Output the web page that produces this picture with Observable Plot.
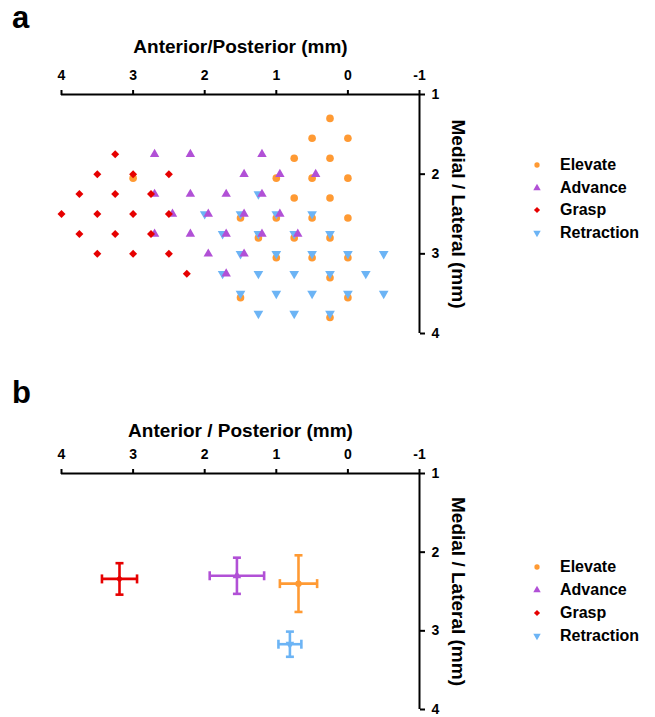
<!DOCTYPE html>
<html>
<head>
<meta charset="utf-8">
<script src="https://cdn.jsdelivr.net/npm/d3@7"></script>
<script src="https://cdn.jsdelivr.net/npm/@observablehq/plot@0.6"></script>
<style>
  body { margin: 0; background: #fff; font-family: "Liberation Sans", Arial, sans-serif; }
  #root { position: relative; width: 655px; height: 717px; overflow: hidden; background: #fff; }
  .panel { position: absolute; left: 0; }
  .letter { position: absolute; left: 12px; font-weight: bold; font-size: 31px; line-height: 31px; color: #000; }
  .lrow { position: absolute; left: 530px; height: 18px; line-height: 18px; font-weight: bold; font-size: 16px; color: #000; white-space: nowrap; }
  .lrow svg { position: absolute; left: 0; top: 3px; }
  .lrow span { position: absolute; left: 30px; top: 0; }
</style>
</head>
<body>
<div id="root"></div>
<script>
// ---------- data ----------
const groups = ["Elevate", "Advance", "Grasp", "Retraction"];
const groupColors = ["#FF9A33", "#B150D6", "#E60000", "#6CB4F5"];
const xTicks = [4, 3, 2, 1, 0, -1];
const yTicks = [1, 2, 3, 4];

// panel a: individual sites (mm)
const elevateX = [0.25, 0.5, 0, 0.75, 0.25, 1.0, 0.5, 0, 0.75, 0.25, 1.5, 1.0, 0.5, 0, 1.25, 0.75, 0.25, 1.0, 0.5, 0, 0.25, 1.5, 0, 0.25, 3.0];
const elevateY = [1.30, 1.55, 1.55, 1.80, 1.80, 2.05, 2.05, 2.05, 2.30, 2.30, 2.55, 2.55, 2.55, 2.55, 2.80, 2.80, 2.80, 3.05, 3.05, 3.05, 3.30, 3.55, 3.55, 3.80, 2.05];

const retractionX = [1.25, 2.0, 1.5, 1.0, 0.5, 1.75, 1.25, 0.75, 0.25, 1.5, 1.0, 0.5, 0, -0.5, 1.75, 1.25, 0.75, 0.25, -0.25, 1.5, 1.0, 0.5, 0, -0.5, 1.25, 0.75, 0.25];
const retractionY = [2.25, 2.5, 2.5, 2.5, 2.5, 2.75, 2.75, 2.75, 2.75, 3.0, 3.0, 3.0, 3.0, 3.0, 3.25, 3.25, 3.25, 3.25, 3.25, 3.5, 3.5, 3.5, 3.5, 3.5, 3.75, 3.75, 3.75];

const advanceX = [2.70, 2.20, 1.20, 1.45, 0.95, 0.45, 2.70, 2.20, 1.70, 1.20, 2.45, 1.95, 1.45, 0.95, 2.70, 2.20, 1.70, 1.20, 0.70, 1.95, 1.45, 1.70];
const advanceY = [1.75, 1.75, 1.75, 2.0, 2.0, 2.0, 2.25, 2.25, 2.25, 2.25, 2.5, 2.5, 2.5, 2.5, 2.75, 2.75, 2.75, 2.75, 2.75, 3.0, 3.0, 3.25];

const graspX = [3.25, 3.5, 3.0, 2.5, 3.75, 3.25, 2.75, 4.0, 3.5, 3.0, 2.5, 3.75, 3.25, 2.75, 3.5, 3.0, 2.5, 2.25];
const graspY = [1.75, 2.0, 2.0, 2.0, 2.25, 2.25, 2.25, 2.5, 2.5, 2.5, 2.5, 2.75, 2.75, 2.75, 3.0, 3.0, 3.0, 3.25];

// panel b: mean ± error (mm)
const meanX = [0.69, 1.55, 3.19, 0.81];
const meanY = [2.40, 2.30, 2.34, 3.17];
const errX = [0.26, 0.38, 0.245, 0.16];
const errY = [0.36, 0.23, 0.20, 0.16];

// ---------- symbols ----------
const triangleDown = {
  draw(context, size) {
    const y = -Math.sqrt(size / (Math.sqrt(3) * 3));
    context.moveTo(0, -y * 2);
    context.lineTo(-Math.sqrt(3) * y, y);
    context.lineTo(Math.sqrt(3) * y, y);
    context.closePath();
  }
};
const vCap = { draw(context, size) { const h = Math.sqrt(size / Math.PI); context.moveTo(0, -h); context.lineTo(0, h); } };
const hCap = { draw(context, size) { const h = Math.sqrt(size / Math.PI); context.moveTo(-h, 0); context.lineTo(h, 0); } };
const groupSymbols = ["circle", "triangle", "diamond2", triangleDown];
const d3Symbols = [d3.symbolCircle, d3.symbolTriangle, d3.symbolDiamond2, triangleDown];

const pts = (xs, ys) => xs.map((x, i) => ({x, y: ys[i]}));

const FONT = "Liberation Sans, Arial, sans-serif";

function frameMarks(xTitle, titleDy) {
  return [
    Plot.ruleY([1], {stroke: "#000", strokeWidth: 2}),
    Plot.ruleX([-1], {stroke: "#000", strokeWidth: 2}),
    Plot.axisX({anchor: "top", ticks: xTicks, tickFormat: d => String(d), tickSize: 5, tickPadding: 10, strokeWidth: 2, label: null, fontSize: 14, fontWeight: "bold", fill: "#000"}),
    Plot.axisY({anchor: "right", ticks: yTicks, tickFormat: d => String(d), tickSize: 5, tickPadding: 7, strokeWidth: 2, label: null, fontSize: 14, fontWeight: "bold", fill: "#000"}),
    Plot.text([xTitle], {frameAnchor: "top", lineAnchor: "middle", textAnchor: "middle", dy: titleDy, fontSize: 19, fontWeight: "bold", fill: "#000"}),
    Plot.text(["Medial / Lateral (mm)"], {frameAnchor: "right", lineAnchor: "middle", textAnchor: "middle", dx: 39, rotate: 90, fontSize: 19, fontWeight: "bold", fill: "#000"})
  ];
}

// ---------- panel a ----------
const plotA = Plot.plot({
  width: 655, height: 313,
  marginLeft: 61, marginRight: 236, marginTop: 64, marginBottom: 10,
  x: {domain: [4, -1]},
  y: {domain: [1, 4], reverse: true},
  style: {fontFamily: FONT, color: "#000", background: "transparent", overflow: "visible"},
  marks: [
    ...frameMarks("Anterior/Posterior (mm)", -48),
    Plot.dot(pts(elevateX, elevateY), {x: "x", y: "y", symbol: groupSymbols[0], r: 3.8, fill: groupColors[0], stroke: "none"}),
    Plot.dot(pts(retractionX, retractionY), {x: "x", y: "y", symbol: groupSymbols[3], r: 3.6, fill: groupColors[3], stroke: "none"}),
    Plot.dot(pts(advanceX, advanceY), {x: "x", y: "y", symbol: groupSymbols[1], r: 3.5, fill: groupColors[1], stroke: "none"}),
    Plot.dot(pts(graspX, graspY), {x: "x", y: "y", symbol: groupSymbols[2], r: 3.6, fill: groupColors[2], stroke: "none"})
  ]
});

// ---------- panel b ----------
const means = groups.map((g, i) => ({g, x: meanX[i], y: meanY[i], ex: errX[i], ey: errY[i], color: groupColors[i], i}));
const drawOrder = [0, 1, 2, 3];
const plotB = Plot.plot({
  width: 655, height: 315,
  marginLeft: 61, marginRight: 236, marginTop: 73, marginBottom: 6,
  x: {domain: [4, -1]},
  y: {domain: [1, 4], reverse: true},
  color: {type: "identity"},
  style: {fontFamily: FONT, color: "#000", background: "transparent", overflow: "visible"},
  marks: [
    ...frameMarks("Anterior / Posterior (mm)", -43),
    Plot.ruleY(means, {y: "y", x1: d => d.x - d.ex, x2: d => d.x + d.ex, stroke: "color", strokeWidth: 2.6}),
    Plot.ruleX(means, {x: "x", y1: d => d.y - d.ey, y2: d => d.y + d.ey, stroke: "color", strokeWidth: 2.6}),
    Plot.dot(means, {x: d => d.x - d.ex, y: "y", symbol: vCap, r: 4.5, fill: "none", stroke: "color", strokeWidth: 2.6}),
    Plot.dot(means, {x: d => d.x + d.ex, y: "y", symbol: vCap, r: 4.5, fill: "none", stroke: "color", strokeWidth: 2.6}),
    Plot.dot(means, {x: "x", y: d => d.y - d.ey, symbol: hCap, r: 4, fill: "none", stroke: "color", strokeWidth: 2.6}),
    Plot.dot(means, {x: "x", y: d => d.y + d.ey, symbol: hCap, r: 4, fill: "none", stroke: "color", strokeWidth: 2.6}),
    ...drawOrder.map(i => Plot.dot([means[i]], {x: "x", y: "y", symbol: groupSymbols[i], r: 3.2, fill: groupColors[i], stroke: "none"}))
  ]
});

// ---------- layout ----------
const root = document.getElementById("root");
function place(el, top) { el.classList.add("panel"); el.style.top = top + "px"; root.appendChild(el); }
place(plotA, 30);
place(plotB, 400);

function letter(txt, top) {
  const d = document.createElement("div");
  d.className = "letter"; d.textContent = txt; d.style.top = top + "px";
  root.appendChild(d);
}
letter("a", 2);
letter("b", 377);

function legend(centers) {
  groups.forEach((g, i) => {
    const row = document.createElement("div");
    row.className = "lrow";
    row.style.top = (centers[i] - 9) + "px";
    const sym = d3.symbol(d3Symbols[i], i === 0 ? 22 : 24)();
    row.innerHTML = `<svg width="14" height="12" viewBox="-7 -6 14 12"><path d="${sym}" fill="${groupColors[i]}"/></svg><span>${g}</span>`;
    root.appendChild(row);
  });
}
legend([164.5, 187.5, 210, 232.5]);
legend([566.5, 590, 612.5, 635.5]);
</script>
</body>
</html>
